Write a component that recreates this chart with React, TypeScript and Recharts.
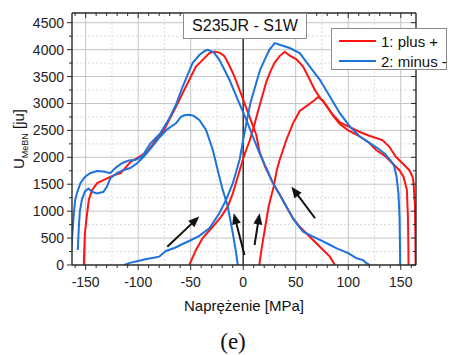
import React from 'react';
import { LineChart, Line, XAxis, YAxis, ReferenceLine } from 'recharts';

// ---------- data (stress [MPa], U_MeBN [ju]) ----------
// series 1 "plus +" : three branches
const redInitial: [number, number][] = [
  [15.3, 0], [17.8, 340], [21, 710], [24.2, 1085], [29, 1455], [32, 1765], [34.7, 1950], [41, 2320],
  [47.4, 2630], [53.8, 2860], [60.2, 2950], [66.5, 3040], [71.3, 3120], [76, 3050], [80, 2930],
  [86, 2760], [92, 2620], [100, 2500], [110, 2400], [120, 2270], [126.2, 2140], [135.8, 2010],
  [142, 1890], [148.5, 1765], [152.6, 1640], [155.8, 1395], [156.8, 900], [157.2, 400], [157.4, 0],
];
const redDown: [number, number][] = [
  [87.3, 0], [82.5, 155], [73, 340], [63.4, 525], [53.8, 710], [47.3, 870], [41, 1085], [35, 1300],
  [28.3, 1520], [21, 1820], [15.6, 2100], [12.4, 2420], [6, 2755], [1.2, 3005], [-3.5, 3250],
  [-8.3, 3500], [-13.1, 3700], [-17.9, 3880], [-22, 3940], [-27.4, 3965], [-32.2, 3935], [-38.6, 3810],
  [-45, 3685], [-51.3, 3440], [-57.7, 3190], [-64, 2940], [-70.4, 2695], [-76.9, 2450], [-83.2, 2320],
  [-91.2, 2105], [-99, 2010], [-107, 1920], [-116.6, 1705], [-123, 1670], [-132.6, 1580], [-139, 1520],
  [-143.8, 1395], [-147, 1210], [-149, 900], [-150.7, 590], [-151.5, 200], [-151.7, 0],
];
const redUp: [number, number][] = [
  [-51.3, 0], [-45, 280], [-38.6, 500], [-29, 710], [-21, 900], [-14.7, 1085], [-9.9, 1330],
  [-5.2, 1640], [-0.4, 1950], [2.9, 2140], [6, 2300], [10, 2560], [14, 2850], [18, 3130], [22, 3400],
  [26, 3600], [30, 3760], [34.7, 3880], [39.5, 3960], [44.3, 3890], [50.7, 3820], [57, 3685],
  [63.4, 3440], [68.2, 3250], [73, 3110], [79.3, 2960], [85.7, 2780], [92, 2650], [101.6, 2560],
  [111, 2470], [120, 2400], [132.5, 2320], [139, 2200], [145.3, 2010], [151.6, 1890], [158, 1765],
  [161.2, 1640], [162.2, 1520], [163.5, 1100], [163.9, 600], [164.1, 0],
];
// series 2 "minus -" : three branches
const blueInitial: [number, number][] = [
  [-5.2, 0], [-6.7, 217], [-9.9, 590], [-14.7, 1085], [-19.5, 1395], [-24.3, 1765], [-29, 2140],
  [-35.4, 2510], [-41.8, 2695], [-47, 2770], [-51.3, 2790], [-56, 2780], [-59.3, 2750], [-64, 2630],
  [-72.4, 2520], [-80.3, 2355], [-86.7, 2200], [-94.6, 2015], [-101, 1890], [-107.5, 1800],
  [-113.8, 1765], [-120.2, 1705], [-126.6, 1610], [-129.7, 1455], [-133, 1360], [-139.3, 1330],
  [-144, 1360], [-147.2, 1420], [-150.5, 1370], [-153.5, 1220], [-155.5, 1000], [-156.5, 700],
  [-157.5, 280],
];
const blueUp: [number, number][] = [
  [-113.4, 0], [-108, 40], [-99, 80], [-92, 110], [-86.4, 130], [-80, 155], [-73.6, 260],
  [-65, 320], [-57.7, 390], [-50, 460], [-41.8, 540], [-32.2, 680], [-22.7, 960], [-16.3, 1210],
  [-9.9, 1520], [-3.5, 1950], [2.9, 2630], [7, 3020], [12.4, 3380], [16, 3620], [20.4, 3810],
  [25, 4000], [30, 4120], [34.7, 4090], [44.3, 4030], [53.8, 3935], [63.4, 3685], [73, 3440],
  [82.5, 3130], [92, 2820], [101.6, 2570], [111, 2385], [120.7, 2260], [128.7, 2160], [135, 2060],
  [140, 1950], [143.5, 1850], [146, 1640], [147.8, 1330], [148.8, 900], [149.2, 400], [149.4, 0],
];
const blueDown: [number, number][] = [
  [120.7, 0], [117, 40], [114, 90], [108, 125], [100, 220], [89, 310], [81, 390], [73, 465],
  [65, 540], [57, 620], [52, 740], [47.3, 870], [41, 1085], [35, 1300], [28.3, 1520], [22, 1800],
  [15.6, 2075], [9.2, 2385], [2.9, 2700], [-5.2, 3070], [-13.1, 3440], [-22.7, 3810], [-28, 3950],
  [-33.8, 3995], [-37, 3970], [-41.8, 3900], [-48.2, 3750], [-57.7, 3310], [-64, 2980],
  [-70.4, 2720], [-78.8, 2450], [-88.3, 2260], [-96.3, 2015], [-102.7, 1950], [-109, 1940],
  [-115.4, 1890], [-121.8, 1800], [-126.6, 1705], [-133, 1735], [-139.3, 1745], [-145.7, 1705],
  [-150.5, 1640], [-155, 1520], [-158, 1350], [-160, 1210], [-161.5, 900], [-163, 500], [-164.5, 30],
];

// arrows: [fromX, fromY, toX, toY]
const arrows: [number, number, number, number][] = [
  [-72.3, 340, -41.8, 900],
  [1.2, 186, -9, 960],
  [10.8, 372, 15.6, 960],
  [68.4, 868, 45.9, 1455],
];

const xMajor = [-150, -100, -50, 0, 50, 100, 150];
const xTicksAll = [-160, -150, -140, -130, -120, -110, -100, -90, -80, -70, -60, -50, -40, -30, -20, -10, 0,
  10, 20, 30, 40, 50, 60, 70, 80, 90, 100, 110, 120, 130, 140, 150, 160];
const xMinorGrid = [-125, -75, -25, 25, 75, 125];
const yMajorGrid = [500, 1000, 1500, 2000, 2500, 3000, 3500, 4000, 4500];
const yMinorGrid = [250, 750, 1250, 1750, 2250, 2750, 3250, 3750, 4250];
const yTicksAll = [0, 250, 500, 750, 1000, 1250, 1500, 1750, 2000, 2250, 2500, 2750, 3000, 3250, 3500,
  3750, 4000, 4250, 4500];

const seriesNames = ['1: plus +', '2: minus -'];
const titleText = 'S235JR - S1W';
const xTitle = 'Naprężenie [MPa]';

// ---------- style ----------
const RED = '#ff1414';
const BLUE = '#1d72dc';
const AXIS = '#2a2a2a';
const FONT = '"Liberation Sans", Arimo, Arial, sans-serif';

const toPts = (a: [number, number][]) => a.map(([x, y]) => ({ x, y }));
const isMajorX = (v: number) => Math.abs(v % 50) < 1e-6;
const isMajorY = (v: number) => Math.abs(v % 500) < 1e-6;

const BottomTick = (p: any) => {
  const { x, y, payload } = p;
  const v = payload.value;
  const major = isMajorX(v);
  return (
    <g>
      <line x1={x} x2={x} y1={y} y2={y + (major ? 5 : 3)} stroke={AXIS} strokeWidth={1} />
      {major && (
        <text x={x} y={y + 22} textAnchor="middle" fontSize={14} fill="#222" fontFamily={FONT}>{v}</text>
      )}
    </g>
  );
};
const TopTick = (p: any) => {
  const { x, y, payload } = p;
  const major = isMajorX(payload.value);
  return <line x1={x} x2={x} y1={y} y2={y + (major ? 5 : 3)} stroke={AXIS} strokeWidth={1} />;
};
const LeftTick = (p: any) => {
  const { x, y, payload } = p;
  const v = payload.value;
  const major = isMajorY(v);
  return (
    <g>
      <line x1={x - (major ? 5 : 3)} x2={x} y1={y} y2={y} stroke={AXIS} strokeWidth={1} />
      {major && (
        <text x={x - 8} y={y + 5} textAnchor="end" fontSize={14} fill="#222" fontFamily={FONT}>{v}</text>
      )}
    </g>
  );
};
const RightTick = (p: any) => {
  const { x, y, payload } = p;
  const major = isMajorY(payload.value);
  return <line x1={x - (major ? 5 : 3)} x2={x} y1={y} y2={y} stroke={AXIS} strokeWidth={1} />;
};

const ArrowShape = (p: any) => {
  const { x1, y1, x2, y2 } = p;
  const dx = x2 - x1, dy = y2 - y1;
  const len = Math.hypot(dx, dy) || 1;
  const ux = dx / len, uy = dy / len;
  const hl = 11, hw = 4.5;
  const bx = x2 - ux * hl, by = y2 - uy * hl;
  const pts = `${x2},${y2} ${bx - uy * hw},${by + ux * hw} ${bx + uy * hw},${by - ux * hw}`;
  return (
    <g>
      <line x1={x1} y1={y1} x2={bx + ux * 1} y2={by + uy * 1} stroke="#111" strokeWidth={2} />
      <polygon points={pts} fill="#111" />
    </g>
  );
};

const W = 450;
const H = 347;

export default function App() {
  const branches = [
    { d: redInitial, c: RED, k: 'r0' },
    { d: redDown, c: RED, k: 'r1' },
    { d: redUp, c: RED, k: 'r2' },
    { d: blueInitial, c: BLUE, k: 'b0' },
    { d: blueUp, c: BLUE, k: 'b1' },
    { d: blueDown, c: BLUE, k: 'b2' },
  ];
  return (
    <div style={{ position: 'relative', width: W, height: H, fontFamily: FONT }}>
      <LineChart width={W} height={H} margin={{ top: 0, right: 0, bottom: 0, left: 0 }}>
        <XAxis xAxisId="b" type="number" dataKey="x" domain={[-163, 164.5]} allowDataOverflow
          orientation="bottom" height={90} ticks={xTicksAll} interval={0} tickSize={0} tickMargin={0}
          tickLine={false} tick={BottomTick} axisLine={{ stroke: AXIS, strokeWidth: 1.4 }} />
        <XAxis xAxisId="t" type="number" dataKey="x" domain={[-163, 164.5]} allowDataOverflow
          orientation="top" height={5} ticks={xTicksAll} interval={0} tickSize={0} tickMargin={0}
          tickLine={false} tick={TopTick} axisLine={{ stroke: AXIS, strokeWidth: 1.4 }} />
        <YAxis yAxisId="l" type="number" domain={[0, 4680]} allowDataOverflow orientation="left" width={64}
          ticks={yTicksAll} interval={0} tickSize={0} tickMargin={0} tickLine={false} tick={LeftTick}
          axisLine={{ stroke: AXIS, strokeWidth: 1.4 }} />
        <YAxis yAxisId="r" type="number" domain={[0, 4680]} allowDataOverflow orientation="right" width={42}
          ticks={yTicksAll} interval={0} tickSize={0} tickMargin={0} tickLine={false} tick={RightTick}
          axisLine={{ stroke: AXIS, strokeWidth: 1.4 }} />

        {xMinorGrid.map((v) => (
          <ReferenceLine key={'xm' + v} xAxisId="b" yAxisId="l" x={v} stroke="#dcdcdc" strokeDasharray="2 2" strokeWidth={1} />
        ))}
        {yMinorGrid.map((v) => (
          <ReferenceLine key={'ym' + v} xAxisId="b" yAxisId="l" y={v} stroke="#dcdcdc" strokeDasharray="2 2" strokeWidth={1} />
        ))}
        {xMajor.filter((v) => v !== 0).map((v) => (
          <ReferenceLine key={'xM' + v} xAxisId="b" yAxisId="l" x={v} stroke="#c4c4c4" strokeWidth={1} />
        ))}
        {yMajorGrid.map((v) => (
          <ReferenceLine key={'yM' + v} xAxisId="b" yAxisId="l" y={v} stroke="#c4c4c4" strokeWidth={1} />
        ))}
        <ReferenceLine xAxisId="b" yAxisId="l" x={0} stroke="#3a3a3a" strokeWidth={1.6} />

        {branches.map((b) => (
          <Line key={b.k} xAxisId="b" yAxisId="l" data={toPts(b.d)} dataKey="y" type="linear"
            stroke={b.c} strokeWidth={2} dot={false} activeDot={false} isAnimationActive={false} />
        ))}

        {arrows.map((a, i) => (
          <ReferenceLine key={'a' + i} xAxisId="b" yAxisId="l" ifOverflow="visible"
            segment={[{ x: a[0], y: a[1] }, { x: a[2], y: a[3] }]} shape={ArrowShape} />
        ))}
      </LineChart>

      {/* title box */}
      <div style={{
        position: 'absolute', left: 175, top: 5, width: 122, height: 24, border: '1px solid #8a8a8a',
        background: '#fff', display: 'flex', alignItems: 'center', justifyContent: 'center',
        fontSize: 16, color: '#111', whiteSpace: 'nowrap',
      }}>{titleText}</div>

      {/* legend */}
      <div style={{
        position: 'absolute', left: 323, top: 20, width: 114, height: 40, border: '1px solid #8a8a8a',
        background: '#fff', fontSize: 15, color: '#111',
      }}>
        {seriesNames.map((n, i) => (
          <div key={n} style={{ position: 'absolute', left: 0, top: 3 + i * 20, height: 18, display: 'flex', alignItems: 'center', whiteSpace: 'nowrap' }}>
            <div style={{ width: 37, height: 2, background: i === 0 ? RED : BLUE, marginLeft: 7 }} />
            <span style={{ marginLeft: 5 }}>{n}</span>
          </div>
        ))}
      </div>

      {/* y-axis title */}
      <div style={{
        position: 'absolute', left: 11 - 60, top: 131 - 10, width: 120, height: 20, transform: 'rotate(-90deg)',
        textAlign: 'center', fontSize: 15, color: '#111', whiteSpace: 'nowrap', lineHeight: '20px',
      }}>
        U<sub style={{ fontSize: 9 }}>MeBN</sub> [ju]
      </div>

      {/* x-axis title */}
      <div style={{
        position: 'absolute', left: 236 - 100, top: 289, width: 200, textAlign: 'center', fontSize: 15,
        color: '#111', whiteSpace: 'nowrap',
      }}>{xTitle}</div>

      {/* panel tag */}
      <div style={{
        position: 'absolute', left: 225 - 40, top: 321, width: 80, textAlign: 'center', fontSize: 23,
        fontFamily: '"Liberation Serif", "DejaVu Serif", serif', color: '#111',
      }}>(e)</div>
    </div>
  );
}
